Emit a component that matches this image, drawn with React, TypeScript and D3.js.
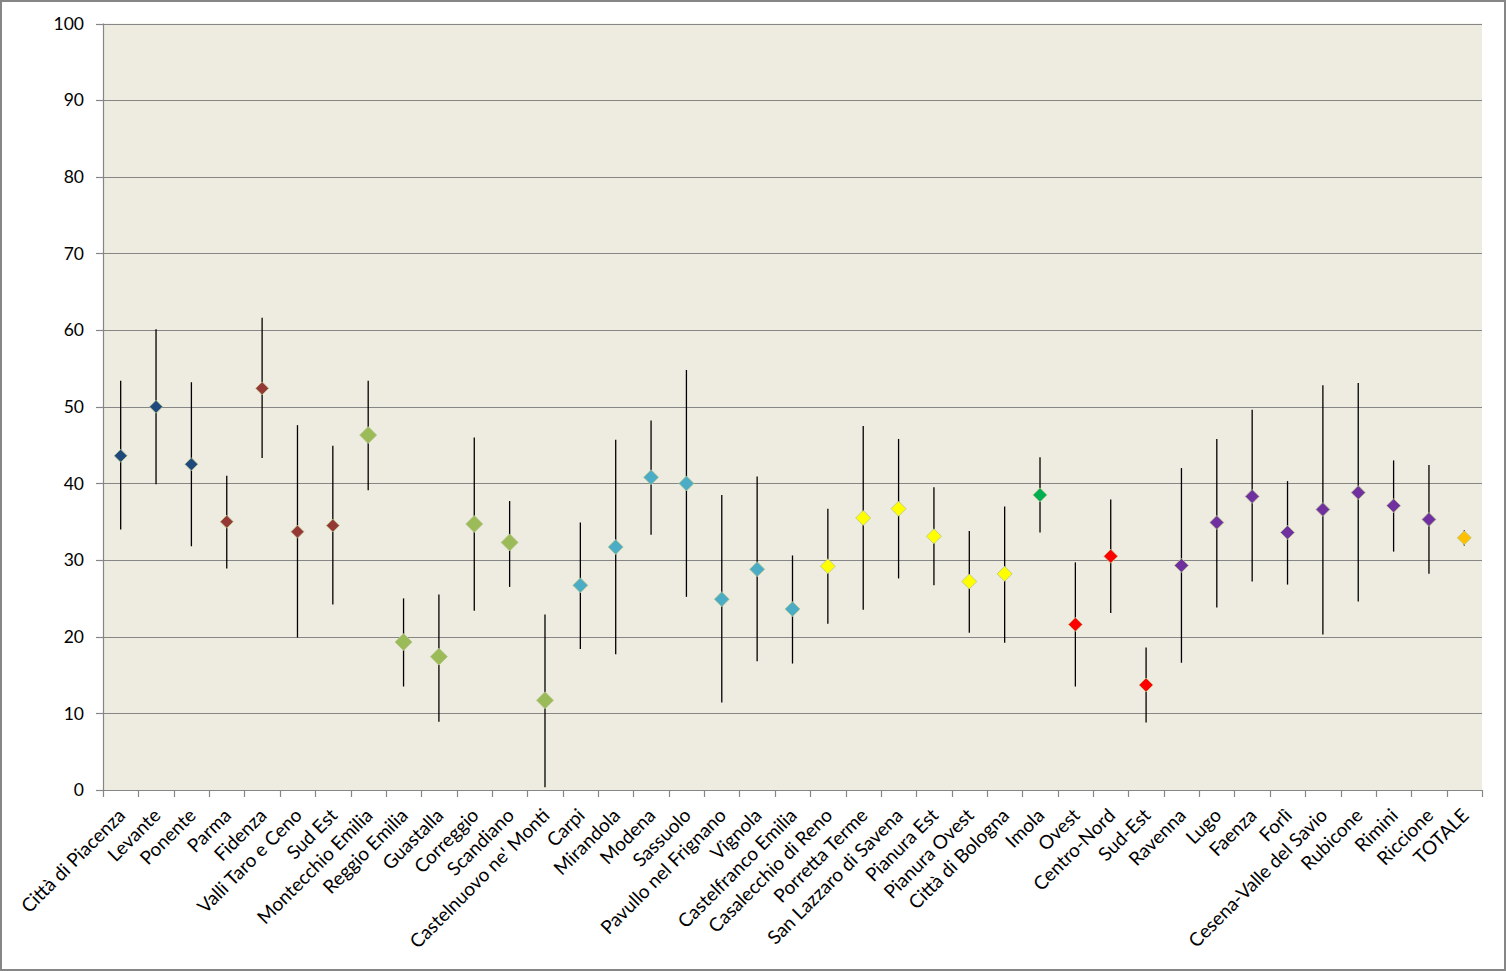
import React, { useEffect, useRef } from "react";
import * as d3 from "d3";

const categories = [
  "Città di Piacenza", "Levante", "Ponente", "Parma", "Fidenza", "Valli Taro e Ceno", "Sud Est",
  "Montecchio Emilia", "Reggio Emilia", "Guastalla", "Correggio", "Scandiano", "Castelnuovo ne' Monti",
  "Carpi", "Mirandola", "Modena", "Sassuolo", "Pavullo nel Frignano", "Vignola", "Castelfranco Emilia",
  "Casalecchio di Reno", "Porretta Terme", "San Lazzaro di Savena", "Pianura Est", "Pianura Ovest",
  "Città di Bologna", "Imola", "Ovest", "Centro-Nord", "Sud-Est", "Ravenna", "Lugo", "Faenza", "Forlì",
  "Cesena-Valle del Savio", "Rubicone", "Rimini", "Riccione", "TOTALE",
];

const values = [
  43.6, 50.0, 42.5, 35.0, 52.4, 33.7, 34.5,
  46.3, 19.3, 17.4, 34.7, 32.3, 11.7,
  26.7, 31.7, 40.8, 40.0, 24.9, 28.8, 23.6,
  29.2, 35.5, 36.7, 33.1, 27.2,
  28.2, 38.5, 21.6, 30.5, 13.7, 29.3, 34.9, 38.3, 33.6,
  36.6, 38.8, 37.1, 35.3, 32.9,
];

const upper = [
  53.4, 60.1, 53.2, 41.0, 61.6, 47.6, 44.9,
  53.4, 25.0, 25.5, 46.0, 37.7, 22.9,
  34.9, 45.7, 48.2, 54.8, 38.5, 40.9, 30.6,
  36.7, 47.5, 45.8, 39.5, 33.8,
  37.0, 43.4, 29.7, 37.9, 18.6, 42.0, 45.8, 49.6, 40.3,
  52.8, 53.1, 43.0, 42.4, 33.9,
];

const lower = [
  34.0, 39.9, 31.8, 28.9, 43.3, 19.9, 24.2,
  39.1, 13.5, 8.9, 23.4, 26.5, 0.35,
  18.4, 17.7, 33.3, 25.2, 11.4, 16.8, 16.5,
  21.7, 23.5, 27.6, 26.7, 20.5,
  19.2, 33.6, 13.5, 23.1, 8.8, 16.6, 23.8, 27.2, 26.8,
  20.3, 24.6, 31.1, 28.2, 31.9,
];

// province group of each category
const groups = [
  0, 0, 0, 1, 1, 1, 1,
  2, 2, 2, 2, 2, 2,
  3, 3, 3, 3, 3, 3, 3,
  4, 4, 4, 4, 4,
  4, 5, 6, 6, 6, 7, 7, 7, 7,
  7, 7, 7, 7, 8,
];

const groupColors = ["#1F497D", "#953735", "#9BBB59", "#4BACC6", "#FFFF00", "#00B050", "#FF0000", "#7030A0", "#FFC000"];
const groupSizes = [6.5, 6.5, 8.5, 7.5, 7.5, 7, 7, 7, 7];

const yTicks = [0, 10, 20, 30, 40, 50, 60, 70, 80, 90, 100];

const W = 1506;
const H = 971;
const FONT = "Lato, 'Open Sans', sans-serif";

export default function App() {
  const ref = useRef<SVGSVGElement | null>(null);

  useEffect(() => {
    const svg = d3.select(ref.current);
    svg.selectAll("*").remove();

    const left = 103, right = 1482, top = 23.5, bottom = 790;

    const x = d3.scaleBand<string>().domain(categories).range([left, right]).paddingInner(0).paddingOuter(0);
    const y = d3.scaleLinear().domain([0, 100]).range([bottom, top]);

    svg.append("rect").attr("x", 0).attr("y", 0).attr("width", W).attr("height", H).attr("fill", "#ffffff");
    svg.append("rect").attr("x", 1).attr("y", 1).attr("width", W - 2).attr("height", H - 2)
      .attr("fill", "none").attr("stroke", "#868686").attr("stroke-width", 2);

    svg.append("rect").attr("x", left).attr("y", top).attr("width", right - left).attr("height", bottom - top)
      .attr("fill", "#EEECE1");

    // gridlines
    svg.append("g").selectAll("line").data(yTicks.filter((t) => t > 0)).join("line")
      .attr("x1", left).attr("x2", right)
      .attr("y1", (d) => Math.round(y(d)) + 0.5).attr("y2", (d) => Math.round(y(d)) + 0.5)
      .attr("stroke", "#868686").attr("stroke-width", 1.2);

    // y axis
    svg.append("line").attr("x1", left + 0.5).attr("x2", left + 0.5).attr("y1", top).attr("y2", bottom)
      .attr("stroke", "#868686").attr("stroke-width", 1.2);
    svg.append("g").selectAll("line").data(yTicks).join("line")
      .attr("x1", left - 7).attr("x2", left)
      .attr("y1", (d) => Math.round(y(d)) + 0.5).attr("y2", (d) => Math.round(y(d)) + 0.5)
      .attr("stroke", "#868686").attr("stroke-width", 1.2);
    svg.append("g").selectAll("text").data(yTicks).join("text")
      .attr("x", 84).attr("y", (d) => y(d)).attr("dy", "0.36em")
      .attr("text-anchor", "end").attr("font-family", FONT).attr("font-size", 17.5).attr("fill", "#000")
      .text((d) => String(d));

    // x axis
    svg.append("line").attr("x1", left).attr("x2", right).attr("y1", bottom + 0.5).attr("y2", bottom + 0.5)
      .attr("stroke", "#868686").attr("stroke-width", 1.2);
    const boundaries = categories.map((c) => x(c) as number).concat([right]);
    svg.append("g").selectAll("line").data(boundaries).join("line")
      .attr("x1", (d) => Math.round(d) + 0.5).attr("x2", (d) => Math.round(d) + 0.5)
      .attr("y1", bottom).attr("y2", bottom + 7)
      .attr("stroke", "#868686").attr("stroke-width", 1.2);

    svg.append("g").selectAll("text").data(categories).join("text")
      .attr("transform", (d) => `translate(${(x(d) as number) + x.bandwidth() / 2 + 1},${bottom + 22}) rotate(-45)`)
      .attr("text-anchor", "end").attr("dy", "0.35em")
      .attr("font-family", FONT).attr("font-size", 19).attr("fill", "#000")
      .text((d) => d);

    const cx = (i: number) => (x(categories[i]) as number) + x.bandwidth() / 2;

    // error bars
    svg.append("g").selectAll("line").data(categories.map((_, i) => i)).join("line")
      .attr("x1", (i) => cx(i)).attr("x2", (i) => cx(i))
      .attr("y1", (i) => y(upper[i])).attr("y2", (i) => y(lower[i]))
      .attr("stroke", "#000").attr("stroke-width", 1.3);

    // markers
    svg.append("g").selectAll("path").data(categories.map((_, i) => i)).join("path")
      .attr("d", (i) => {
        const s = groupSizes[groups[i]];
        const px = cx(i), py = y(values[i]);
        return `M${px},${py - s}L${px + s},${py}L${px},${py + s}L${px - s},${py}Z`;
      })
      .attr("fill", (i) => groupColors[groups[i]])
      .attr("stroke", "#B5C48A").attr("stroke-width", 0.8);
  }, []);

  return (
    <svg ref={ref} width={W} height={H} style={{ display: "block", position: "absolute", left: 0, top: 0 }} />
  );
}
